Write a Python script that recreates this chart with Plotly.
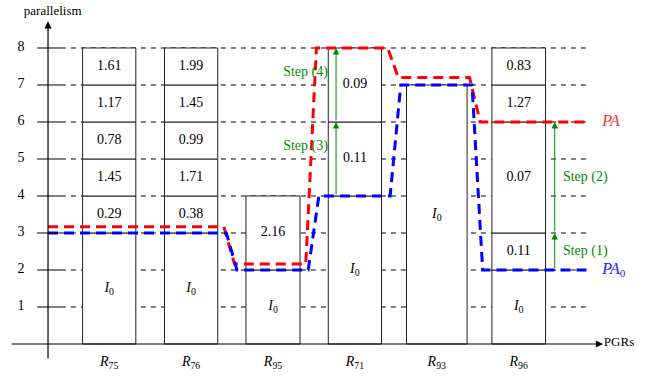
import plotly.graph_objects as go

# ---- data -------------------------------------------------------------
categories = ["75", "76", "95", "71", "93", "96"]

# stacked segments of every PGR box, bottom to top
segment_labels = [
    ["I0", "0.29", "1.45", "0.78", "1.17", "1.61"],
    ["I0", "0.38", "1.71", "0.99", "1.45", "1.99"],
    ["I0", "2.16"],
    ["I0", "0.11", "0.09"],
    ["I0"],
    ["I0", "0.11", "0.07", "1.27", "0.83"],
]
segment_heights = [
    [3, 1, 1, 1, 1, 1],
    [3, 1, 1, 1, 1, 1],
    [2, 2],
    [4, 2, 2],
    [7],
    [2, 1, 3, 1, 1],
]

# parallelism assignments
pa_values = [3.17, 3.17, 2.16, 8, 7.2, 6]
pa0_values = [3, 3, 2, 4, 7, 2]

# refinement steps
step_labels = ["Step (1)", "Step (2)", "Step (3)", "Step (4)"]
step_category = [5, 5, 3, 3]
step_from = [2, 3, 4, 6]
step_to = [3, 6, 6, 8]

y_ticks = [1, 2, 3, 4, 5, 6, 7, 8]

# ---- styling ----------------------------------------------------------
SERIF = "Times New Roman"
BOX_W = [0.65, 0.65, 0.66, 0.65, 0.74, 0.655]
GREEN = "#008a00"
X_RANGE = [-1.3333, 6.6154]
Y_RANGE = [-0.865, 9.297]
AXIS_X = -0.747          # position of the vertical axis
GRID_END = 5.87
TICK_L, TICK_R = -0.88, -0.59

fig = go.Figure()


def add_text(xs, ys, texts, size, color="black", pos="middle center"):
    fig.add_trace(go.Scatter(
        x=xs, y=ys, text=texts, mode="text", textposition=pos,
        textfont=dict(family=SERIF, size=size, color=color),
        hoverinfo="skip", showlegend=False, cliponaxis=False,
    ))


# stacked boxes
bx, bbase, bh, bw, tx, ty, tt = [], [], [], [], [], [], []
for i, (labs, hs) in enumerate(zip(segment_labels, segment_heights)):
    b = 0
    for lab, h in zip(labs, hs):
        bx.append(i); bbase.append(b); bh.append(h); bw.append(BOX_W[i])
        tx.append(i); ty.append(b + h / 2)
        tt.append("<i>I</i><sub>0</sub>" if lab == "I0" else lab)
        b += h

fig.add_trace(go.Bar(
    x=bx, y=bh, base=bbase, width=bw,
    marker=dict(color="white", line=dict(color="#222", width=1)),
    hoverinfo="skip", showlegend=False,
))
add_text(tx, ty, tt, 14)


def step_path(vals, right=0.41, left=0.45):
    xs, ys = [AXIS_X], [vals[0]]
    n = len(vals)
    for i, v in enumerate(vals):
        if i > 0:
            xs.append(i - left); ys.append(v)
        if i < n - 1:
            xs.append(i + right); ys.append(v)
    xs.append(GRID_END); ys.append(vals[-1])
    return xs, ys


px, py = step_path(pa_values, right=0.40, left=0.47)
fig.add_trace(go.Scatter(x=px, y=py, mode="lines",
                         line=dict(color="#ff0000", width=3, dash="10px,6px"),
                         hoverinfo="skip", showlegend=False))
qx, qy = step_path(pa0_values, right=0.43, left=0.44)
fig.add_trace(go.Scatter(x=qx, y=qy, mode="lines",
                         line=dict(color="#0000ff", width=3, dash="10px,6px"),
                         hoverinfo="skip", showlegend=False))

shapes = []
# dashed guide lines under the boxes, with solid ticks at the axis
for k in y_ticks:
    shapes.append(dict(type="line", xref="x", yref="y", layer="below",
                       x0=TICK_R, x1=GRID_END, y0=k, y1=k,
                       line=dict(color="black", width=1, dash="5px,5px")))
    shapes.append(dict(type="line", xref="x", yref="y", layer="above",
                       x0=TICK_L, x1=TICK_R, y0=k, y1=k,
                       line=dict(color="black", width=1)))

annotations = []
# axes with arrow heads
annotations.append(dict(x=6.03, y=0, ax=-1.21, ay=0, xref="x", yref="y",
                        axref="x", ayref="y", showarrow=True, arrowhead=2,
                        arrowsize=1.2, arrowwidth=1.2, arrowcolor="black", text=""))
annotations.append(dict(x=AXIS_X, y=8.72, ax=AXIS_X, ay=-0.43, xref="x", yref="y",
                        axref="x", ayref="y", showarrow=True, arrowhead=2,
                        arrowsize=1.2, arrowwidth=1.2, arrowcolor="black", text=""))

# axis titles
add_text([6.04], [0.03], ["PGRs"], 13, pos="middle right")
add_text([-0.69], [8.97], ["parallelism"], 13)

# tick labels
add_text([-1.077] * len(y_ticks), y_ticks, [str(k) for k in y_ticks], 14)

# category labels
add_text(list(range(len(categories))), [-0.5] * len(categories),
         [f"<i>R</i><sub>{c}</sub>" for c in categories], 14)

# series labels
add_text([6.02], [pa_values[-1]], ["<i>PA</i>"], 16, color="#ff3030", pos="middle right")
add_text([6.02], [pa0_values[-1]], ["<i>PA</i><sub>0</sub>"], 16, color="#2020ff",
         pos="middle right")

# refinement steps
for lab, ci, f, t in zip(step_labels, step_category, step_from, step_to):
    xa = ci - 0.23 if ci == 3 else ci + 0.44
    annotations.append(dict(x=xa, y=t, ax=xa, ay=f, xref="x", yref="y",
                            axref="x", ayref="y", showarrow=True, arrowhead=2,
                            arrowsize=1.3, arrowwidth=1, arrowcolor=GREEN, text=""))
    if ci == 3:
        add_text([xa - 0.1], [(f + t) / 2 + 0.35], [lab], 14, color=GREEN,
                 pos="middle left")
    else:
        add_text([xa + 0.1], [(f + t) / 2], [lab], 14, color=GREEN,
                 pos="middle right")

fig.update_layout(
    width=651, height=376,
    margin=dict(l=0, r=0, t=0, b=0),
    paper_bgcolor="white", plot_bgcolor="white",
    font=dict(family=SERIF, size=14),
    xaxis=dict(range=X_RANGE, visible=False, fixedrange=True),
    yaxis=dict(range=Y_RANGE, visible=False, fixedrange=True),
    barmode="overlay",
    shapes=shapes, annotations=annotations,
    showlegend=False,
)

fig.write_html("out.html")
